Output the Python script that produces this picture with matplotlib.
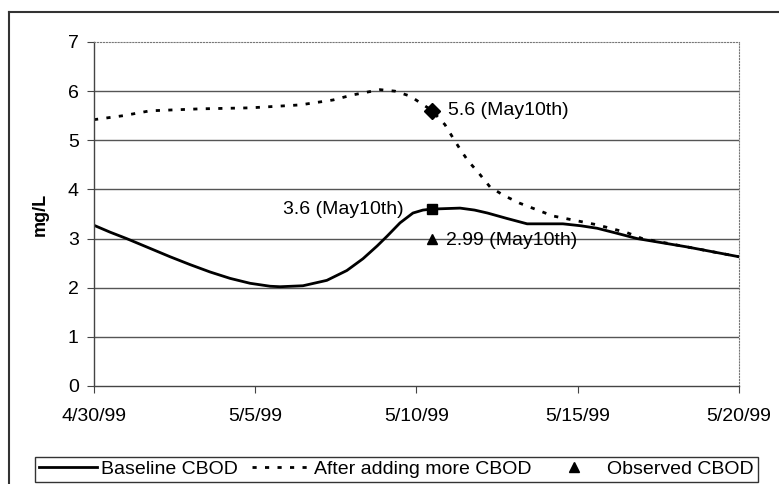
import matplotlib
matplotlib.use("Agg")
import matplotlib.pyplot as plt
from matplotlib.lines import Line2D
from datetime import datetime, timedelta

plt.rcParams['font.family'] = ['Liberation Sans', 'DejaVu Sans']

debut = datetime(1999, 4, 30)

# Baseline CBOD (jours depuis 4/30/99, mg/L)
jours_base = [0, 0.5, 1.01, 1.74, 2.36, 2.98, 3.6, 4.22, 4.84, 5.46, 5.77, 6.48,
              7.22, 7.84, 8.34, 8.78, 9.09, 9.49, 9.89, 10.2, 10.47, 11.35, 11.8,
              12.2, 12.8, 13.43, 14.54, 15.1, 15.6, 16.2, 16.84, 18.39, 20]
val_base = [3.27, 3.13, 3.0, 2.8, 2.63, 2.47, 2.32, 2.19, 2.09, 2.03, 2.02, 2.04,
            2.15, 2.35, 2.59, 2.85, 3.05, 3.32, 3.52, 3.58, 3.6, 3.62, 3.58,
            3.52, 3.41, 3.3, 3.3, 3.26, 3.21, 3.11, 3.0, 2.83, 2.63]

# After adding more CBOD
jours_plus = [0, 0.9, 1.74, 3.3, 4.84, 6.39, 7.41, 8.0, 8.47, 8.87, 9.33, 9.8, 10.47,
              10.88, 11.13, 11.35, 11.6, 11.91, 12.28, 12.7, 13.2, 14.23, 15.6, 16.53,
              17.0, 18.39, 20]
val_plus = [5.42, 5.5, 5.6, 5.64, 5.66, 5.72, 5.82, 5.92, 5.98, 6.03, 6.0, 5.9, 5.61,
            5.32, 5.05, 4.82, 4.58, 4.35, 4.05, 3.88, 3.72, 3.46, 3.28, 3.12,
            3.0, 2.83, 2.63]

# Points du 10 mai
jour_mai10 = 10.47
val_base_mai10 = 3.6
val_plus_mai10 = 5.6
val_obs_mai10 = 2.99

ticks_y = [0, 1, 2, 3, 4, 5, 6, 7]
ticks_x = ['4/30/99', '5/5/99', '5/10/99', '5/15/99', '5/20/99']

def dates(jours):
    return [debut + timedelta(days=j) for j in jours]

fig = plt.figure(figsize=(7.79, 4.84), dpi=100)
ax = fig.add_axes([94/779, 1 - 386/484, 645/779, 344/484])

ax.plot(dates(jours_base), val_base, color='black', lw=2, label='Baseline CBOD')
ax.plot(dates(jours_plus), val_plus, color='black', lw=2, ls=(0, (1.5, 3)),
        label='After adding more CBOD')
d10 = debut + timedelta(days=jour_mai10)
ax.plot([d10], [val_base_mai10], marker='s', color='black', ms=7, ls='none')
ax.plot([d10], [val_plus_mai10], marker='D', color='black', ms=8, ls='none')
ax.plot([d10], [val_obs_mai10], marker='^', color='black', ms=7, ls='none',
        label='Observed CBOD')

ax.annotate('3.6 (May10th)', (d10, val_base_mai10), xytext=(-20, 0),
            textcoords='offset points', ha='right', va='center', fontsize=14)
ax.annotate('5.6 (May10th)', (d10, val_plus_mai10), xytext=(12, 0),
            textcoords='offset points', ha='left', va='center', fontsize=14)
ax.annotate('2.99 (May10th)', (d10, val_obs_mai10), xytext=(10, -1),
            textcoords='offset points', ha='left', va='center', fontsize=14)

ax.set_ylim(0, 7)
ax.set_yticks(ticks_y)
ax.set_xlim(debut, debut + timedelta(days=20))
ax.set_xticks([debut + timedelta(days=5 * i) for i in range(len(ticks_x))])
ax.set_xticklabels(ticks_x)
ax.tick_params(labelsize=14, length=5, color='#444444', pad=11)
ax.tick_params(axis='y', pad=6)
ax.set_ylabel('mg/L', fontsize=13, fontweight='bold', labelpad=14)

for v in ticks_y[1:-1]:
    ax.axhline(v, color='#555555', lw=1, zorder=0)
for s in ['top', 'right']:
    ax.spines[s].set_linestyle(':')
    ax.spines[s].set_color('#777777')
for s in ['left', 'bottom']:
    ax.spines[s].set_color('#444444')
    ax.spines[s].set_linewidth(1)

# cadre extérieur
fig.add_artist(Line2D([9/779, 9/779], [0, 1 - 12/484], color='#333333', lw=1.5))
fig.add_artist(Line2D([9/779, 1], [1 - 12/484, 1 - 12/484], color='#333333', lw=1.5))

leg = fig.legend(loc='lower left', bbox_to_anchor=(35/779, 2/484, 723/779, 32/484),
                 mode='expand', ncol=3, fontsize=14, frameon=True, fancybox=False,
                 edgecolor='black', handlelength=3.0, handletextpad=0.2,
                 columnspacing=0.5, borderpad=0.2, borderaxespad=0)
leg.get_frame().set_linewidth(1)

fig.savefig('out.png', dpi=100)
